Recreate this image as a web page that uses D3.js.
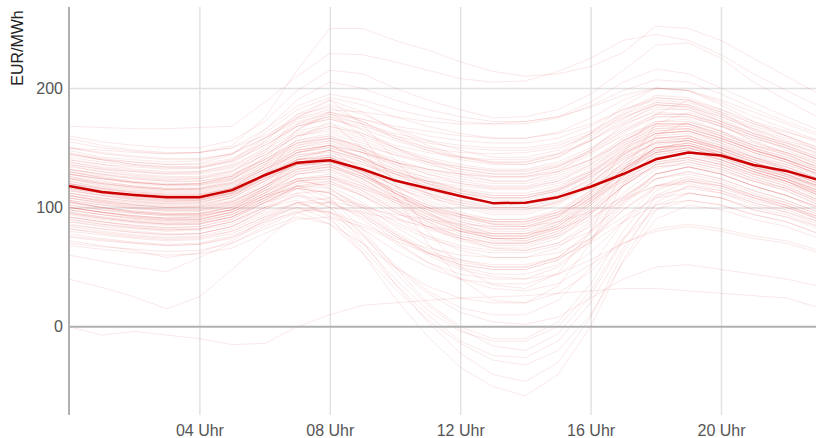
<!DOCTYPE html>
<html>
<head>
<meta charset="utf-8">
<script src="https://cdn.jsdelivr.net/npm/d3@7"></script>
<style>
  html, body { margin: 0; padding: 0; background: #fff; }
  svg { display: block; font-family: "Liberation Sans", Arial, Helvetica, sans-serif; }
</style>
</head>
<body>
<svg id="chart" width="816" height="438"></svg>
<script>
// Hours of the day (0..23)
const hours = d3.range(0, 24);

// Axis ticks
const hourTicks = [4, 8, 12, 16, 20];
const priceTicks = [0, 100, 200];
const yLabel = "EUR/MWh";

// Average hourly price profile (EUR/MWh)
const meanPrice = [118, 113, 110.5, 108.5, 108.5, 114.5, 127, 137.5, 139.5, 132, 122.5, 116,
                   109.6, 103.6, 104, 108.6, 117.3, 128, 140.3, 146, 143.5, 135.6, 130.6, 123];

// Daily hourly price profiles (EUR/MWh)
const dailyPrices = [
  [150,148,146,145,146,152,175,215,250,250,240,232,222,214,210,212,218,230,252,250,240,225,210,195],
  [168,167,166,166,167,168,188,210,229,228,222,215,208,205,206,214,225,240,245,240,228,212,198,185],
  [160,155,152,150,150,156,172,198,215,212,200,190,182,175,176,182,195,215,236,238,225,205,190,175],
  [145,140,138,136,137,144,165,190,205,200,190,182,176,172,172,176,188,205,216,212,200,188,176,165],
  [155,150,147,145,146,150,165,185,195,190,182,176,172,170,170,175,185,198,207,205,195,183,172,162],
  [148,142,140,138,139,145,162,182,192,186,176,168,162,158,158,163,175,190,200,198,188,176,166,156],
  [140,136,134,132,133,139,156,176,186,178,166,156,148,142,142,148,162,180,194,192,182,170,160,150],
  [136,132,130,128,129,134,150,170,180,172,160,150,142,137,136,142,156,174,188,186,176,165,155,145],
  [150,146,143,141,141,145,158,172,178,174,168,164,160,158,158,162,170,182,190,188,180,170,163,156],
  [132,128,125,123,124,130,148,168,176,165,150,138,128,122,122,130,148,170,186,185,174,162,150,140],
  [145,140,136,134,134,140,158,178,184,172,158,148,140,136,136,142,158,178,192,190,178,166,156,148],
  [128,124,121,119,120,126,142,160,168,162,152,146,142,140,140,145,156,170,180,178,168,156,146,136],
  [158,152,148,146,146,150,160,175,182,180,176,172,170,170,172,176,184,194,200,198,190,180,170,160],
  [138,134,131,129,130,136,155,178,190,180,165,152,143,138,138,145,162,185,200,198,186,172,160,148],
  [125,120,117,115,116,123,142,165,178,170,158,150,146,145,146,150,160,175,186,184,172,160,148,138],
  [120,114,110,108,108,114,128,142,148,140,130,122,115,110,110,116,128,145,158,160,150,140,134,124],
  [118,112,108,106,106,112,126,140,144,134,122,112,104,98,98,105,120,140,155,158,150,140,132,122],
  [115,110,106,104,104,110,125,138,140,130,118,110,104,100,100,106,118,134,148,150,144,136,130,120],
  [124,118,115,113,113,118,132,146,150,142,132,125,120,117,117,122,134,150,162,164,156,146,138,128],
  [110,105,102,100,100,105,118,132,136,126,112,100,92,86,86,94,110,132,150,154,146,136,128,118],
  [112,108,105,103,104,110,124,136,136,124,108,95,85,80,80,88,106,130,148,152,145,135,127,117],
  [122,116,112,110,110,116,132,148,152,142,128,118,110,104,104,110,124,144,160,162,154,144,136,126],
  [105,100,97,95,95,100,112,124,126,118,108,100,94,90,90,96,108,124,138,142,136,128,122,112],
  [128,122,118,116,116,121,134,148,152,146,138,132,128,125,125,130,140,154,166,166,158,148,140,132],
  [100,96,93,91,92,98,112,128,132,120,104,90,80,74,74,82,100,124,142,146,138,128,120,110],
  [116,112,109,107,107,112,124,136,138,130,120,112,106,102,102,108,120,136,150,152,144,134,126,118],
  [108,103,100,98,98,103,116,130,134,126,116,108,102,98,98,104,116,132,146,148,140,130,122,112],
  [130,125,121,119,119,124,138,154,160,150,136,124,114,108,108,116,132,154,172,174,164,152,144,134],
  [98,94,91,89,90,96,110,124,126,116,102,90,80,74,72,80,98,122,140,144,138,128,120,108],
  [126,120,117,115,115,120,132,144,146,138,128,120,114,110,110,115,126,142,154,156,150,142,136,128],
  [104,99,96,94,95,101,116,134,140,128,112,98,86,78,78,88,108,132,150,154,146,134,124,112],
  [114,110,107,105,106,112,128,146,152,140,124,110,100,94,94,102,120,144,162,164,154,142,132,122],
  [120,116,113,111,111,116,128,140,142,136,128,122,118,115,115,120,130,146,158,158,150,140,132,124],
  [95,91,88,86,87,92,104,118,120,110,96,84,74,68,68,76,94,118,136,140,134,124,116,104],
  [135,130,126,124,124,128,140,154,158,152,144,138,134,130,130,135,146,160,170,170,162,152,146,138],
  [110,106,103,101,101,106,120,136,140,128,112,96,84,76,76,86,106,132,150,152,144,132,124,114],
  [102,98,95,93,93,98,110,122,124,116,106,98,92,88,88,94,106,122,134,136,130,122,116,106],
  [118,113,110,108,108,113,126,140,142,130,114,100,88,82,82,92,112,138,156,158,148,136,128,118],
  [88,85,82,80,81,86,100,116,120,110,96,84,76,70,70,78,96,118,134,138,132,122,114,102],
  [132,127,124,122,122,126,140,156,160,150,138,128,120,116,116,122,136,156,170,170,160,150,142,134],
  [92,88,85,83,84,90,104,118,116,100,80,64,54,50,50,58,78,106,128,134,128,118,110,100],
  [85,82,79,77,78,84,98,110,106,90,70,54,44,40,40,50,72,102,124,130,124,114,106,96],
  [100,96,92,90,90,96,110,122,118,104,88,76,68,64,64,70,84,108,128,134,128,118,110,100],
  [80,77,74,72,73,78,90,100,96,82,64,50,40,36,36,44,62,88,110,116,112,104,98,88],
  [95,91,88,86,86,92,106,116,112,100,86,74,66,62,62,68,80,104,124,130,124,114,106,96],
  [75,72,70,68,69,74,86,98,96,86,74,66,60,58,58,62,74,92,108,112,108,100,94,84],
  [90,86,83,81,82,88,100,110,100,78,52,30,16,10,10,22,50,88,118,126,120,110,102,92],
  [105,100,96,94,94,100,114,124,116,98,78,62,52,48,48,56,74,104,128,134,128,118,110,100],
  [70,67,65,63,64,70,82,92,86,70,50,34,24,20,20,28,46,74,98,106,102,94,88,78],
  [88,84,80,78,78,84,96,104,94,70,40,14,-4,-12,-12,0,30,74,108,118,112,102,96,86],
  [98,94,90,88,88,94,108,118,108,82,50,20,0,-10,-10,4,36,80,114,124,118,108,100,90],
  [82,78,75,73,74,80,92,100,90,66,36,10,-12,-24,-26,-12,20,66,102,112,108,98,92,82],
  [92,88,84,82,82,88,100,106,92,62,24,-8,-34,-50,-58,-40,0,56,98,112,108,98,92,84],
  [96,92,88,86,86,92,104,112,100,72,36,4,-22,-40,-46,-30,8,62,104,118,114,104,96,88],
  [78,74,71,69,70,76,88,96,86,62,32,6,-14,-28,-32,-20,10,54,90,102,98,90,84,74],
  [105,100,96,94,94,98,110,116,104,78,46,18,-2,-16,-20,-6,26,72,110,122,118,108,100,92],
  [40,33,25,15,25,48,72,95,105,100,94,90,86,84,84,88,96,108,118,120,114,106,100,90],
  [0,-7,-4,-7,-10,-15,-14,0,10,18,20,22,24,25,26,28,30,32,32,30,28,26,24,16],
  [60,55,50,46,58,70,84,96,100,96,90,84,80,78,78,82,92,106,118,122,116,108,102,92],
  [72,68,64,58,62,72,90,104,108,102,92,82,74,70,70,76,90,110,124,128,122,112,104,94],
  [84,80,77,75,76,82,94,104,96,76,50,28,12,4,2,8,24,40,50,52,48,44,40,34],
  [120,115,112,110,110,116,135,165,180,160,120,80,50,35,32,45,80,130,170,180,170,155,145,132],
  [110,105,102,100,101,108,128,158,172,150,110,70,40,22,20,34,70,120,160,172,164,150,140,126],
  [130,125,121,119,120,126,146,175,190,170,140,112,94,86,84,92,112,146,178,190,180,164,152,140],
  [100,96,93,91,92,98,116,140,148,132,108,88,74,66,64,70,88,118,146,158,150,138,128,116],
  [142,138,135,133,133,138,152,168,174,166,156,148,142,138,138,144,156,172,184,182,172,162,154,146],
  [126,121,118,116,116,121,136,152,158,148,134,122,112,106,106,114,130,152,168,170,160,148,140,130],
  [112,107,104,102,102,108,122,138,142,132,118,106,96,90,90,98,114,136,152,156,148,138,130,120],
  [134,130,127,125,125,130,144,160,166,158,148,140,134,131,131,136,148,164,176,176,168,158,150,140],
  [106,102,99,97,97,102,116,132,136,126,112,100,90,84,84,92,108,130,146,150,142,132,124,114],
  [146,141,138,136,136,141,154,170,176,170,162,156,152,150,150,154,164,178,188,186,178,168,160,150],
  [118,114,111,109,109,114,128,144,148,138,124,112,102,96,96,104,120,142,158,160,152,142,134,124],
  [96,92,89,87,88,94,108,124,128,118,104,92,82,76,76,84,102,126,144,148,140,130,122,110],
  [124,120,117,115,115,120,134,150,156,148,138,130,124,120,120,126,138,156,170,170,162,152,144,134],
  [138,133,130,128,128,133,146,162,168,160,150,142,136,132,132,138,150,166,178,178,170,160,152,142],
  [108,104,101,99,99,104,118,134,138,128,114,102,92,86,86,94,110,132,148,152,144,134,126,116],
  [128,124,121,119,119,124,138,154,158,150,140,132,126,122,122,128,140,158,172,172,164,154,146,136],
  [100,96,93,91,91,96,108,122,124,114,100,88,78,72,72,80,98,120,138,142,136,126,118,106],
  [116,111,108,106,106,111,124,138,140,132,122,114,108,104,104,110,122,140,154,156,148,138,130,120],
  [90,86,83,81,82,88,102,118,122,110,92,76,64,58,58,66,86,112,132,138,132,122,114,102],
  [150,145,142,140,140,145,158,174,180,174,166,160,156,154,154,158,168,182,192,190,182,172,164,154],
  [122,117,114,112,112,117,130,146,150,142,130,120,112,108,108,114,128,148,164,166,158,148,140,130],
  [104,100,97,95,95,100,114,130,134,124,108,94,82,76,76,84,104,128,146,150,142,132,124,112],
  [132,128,124,122,122,127,140,156,162,154,144,136,130,126,126,132,144,162,176,176,168,158,150,140],
  [114,110,107,105,105,110,122,136,138,128,114,102,94,88,88,96,112,134,150,152,146,136,128,118],
  [86,82,79,77,78,84,98,112,114,102,84,68,56,50,50,58,80,108,128,134,128,118,110,98],
  [140,136,132,130,130,135,148,164,170,162,150,140,132,128,128,134,148,168,182,182,172,162,154,144],
  [110,106,102,100,100,105,118,132,134,124,110,98,88,82,82,90,108,130,146,150,142,132,124,114],
  [124,119,116,114,114,119,132,148,152,142,128,116,106,100,100,108,124,146,162,164,156,146,138,128],
  [98,94,91,89,89,94,106,120,122,112,98,86,76,70,70,78,96,118,136,140,134,124,116,104],
  [118,114,110,108,108,113,126,140,144,136,126,118,112,108,108,114,126,144,158,160,152,142,134,124],
  [130,126,122,120,120,125,138,152,156,146,132,120,110,104,104,112,128,150,166,168,158,148,140,130],
  [76,73,70,68,69,75,88,102,104,94,78,62,50,44,44,52,72,98,118,124,120,110,102,90],
  [144,140,136,134,134,139,152,168,174,168,160,154,150,148,148,152,162,176,186,184,176,166,158,148],
  [108,104,100,98,98,104,118,136,142,130,112,96,82,74,74,84,104,130,150,154,146,134,126,114],
  [120,116,113,111,111,116,130,146,152,146,138,132,128,126,126,130,140,156,168,168,160,150,142,132],
  [94,90,87,85,86,92,106,122,126,114,98,84,72,66,66,74,94,118,136,142,136,126,118,106],
  [102,98,95,93,93,98,112,128,132,122,106,92,80,74,74,82,102,126,144,148,140,130,122,110],
  [136,132,128,126,126,131,144,160,164,156,146,138,132,128,128,134,146,164,178,178,170,160,152,142],
  [112,108,105,103,103,108,122,138,142,132,118,104,94,88,88,96,114,138,154,156,148,138,130,120],
  [82,79,76,74,75,80,92,104,104,92,76,62,52,48,48,56,74,98,116,122,118,110,104,94],
  [128,124,120,118,118,123,136,150,154,146,136,128,122,118,118,124,136,152,164,166,158,148,140,130],
  [68,65,62,60,61,66,78,90,92,84,72,62,56,52,52,58,70,88,102,106,102,94,88,78],
  [106,102,99,97,97,102,114,128,130,120,106,94,84,78,78,86,104,126,142,146,140,130,122,110],
  [116,112,109,107,107,112,126,142,148,140,130,122,116,112,112,118,130,148,162,164,156,146,138,128],
  [92,88,85,83,84,90,104,116,112,96,76,60,48,42,40,44,56,70,80,84,80,74,70,62],
  [100,96,92,90,90,96,108,118,112,94,72,54,40,32,30,36,52,70,82,86,82,76,72,64]
];

const svg = d3.select("#chart");
const W = 816, H = 438;
const padLeft = 69, padTop = 7, axisBottomY = 415;

const x = d3.scaleLinear().domain([0, 23]).range([padLeft, padLeft + 23 * 32.6]);
const y = d3.scaleLinear().domain([-74, 268]).range([axisBottomY, padTop]);

svg.append("defs").append("clipPath").attr("id", "plot")
  .append("rect").attr("x", padLeft).attr("y", padTop)
  .attr("width", W - padLeft).attr("height", axisBottomY - padTop);

// Vertical hour gridlines + labels
const xAxis = svg.append("g")
  .attr("transform", `translate(0,${axisBottomY})`)
  .call(d3.axisBottom(x).tickValues(hourTicks)
    .tickSize(-(axisBottomY - padTop))
    .tickFormat(d => String(d).padStart(2, "0") + " Uhr"));
xAxis.select(".domain").remove();
xAxis.selectAll("line").attr("stroke", "#e2e2e2").attr("stroke-width", 1.5);
xAxis.selectAll("text").attr("fill", "#555").attr("font-size", 16).attr("dy", "1.05em")
  .attr("y", 4);

// Horizontal price gridlines + labels
const yAxis = svg.append("g")
  .attr("transform", `translate(${padLeft},0)`)
  .call(d3.axisLeft(y).tickValues(priceTicks).tickSize(-(W - padLeft)).tickPadding(6));
yAxis.select(".domain").remove();
yAxis.selectAll("line").attr("stroke", d => d === 0 ? "none" : "#e0e0e0").attr("stroke-width", 1.5);
yAxis.selectAll("text").attr("fill", "#555").attr("font-size", 16);

// Daily profiles
const line = d3.line().x((d, i) => x(hours[i])).y(d => y(d));
const plot = svg.append("g").attr("clip-path", "url(#plot)");
plot.selectAll("path.day").data(dailyPrices).join("path")
  .attr("class", "day")
  .attr("d", line)
  .attr("fill", "none")
  .attr("stroke", "#d42020")
  .attr("stroke-opacity", 0.1)
  .attr("stroke-width", 1);

// Zero line and y axis line
svg.append("line")
  .attr("x1", padLeft).attr("x2", W).attr("y1", y(0)).attr("y2", y(0))
  .attr("stroke", "#b0b0b0").attr("stroke-width", 2);
svg.append("line")
  .attr("x1", padLeft).attr("x2", padLeft).attr("y1", padTop).attr("y2", axisBottomY)
  .attr("stroke", "#b0b0b0").attr("stroke-width", 2);

// Average profile
svg.append("path")
  .attr("clip-path", "url(#plot)")
  .datum(meanPrice)
  .attr("d", line)
  .attr("fill", "none")
  .attr("stroke", "#cc0000")
  .attr("stroke-width", 2.5)
  .attr("stroke-linejoin", "round");

// Unit label
svg.append("text")
  .attr("transform", `translate(23,48) rotate(-90)`)
  .attr("text-anchor", "middle")
  .attr("fill", "#222")
  .attr("font-size", 16)
  .text(yLabel);
</script>
</body>
</html>
